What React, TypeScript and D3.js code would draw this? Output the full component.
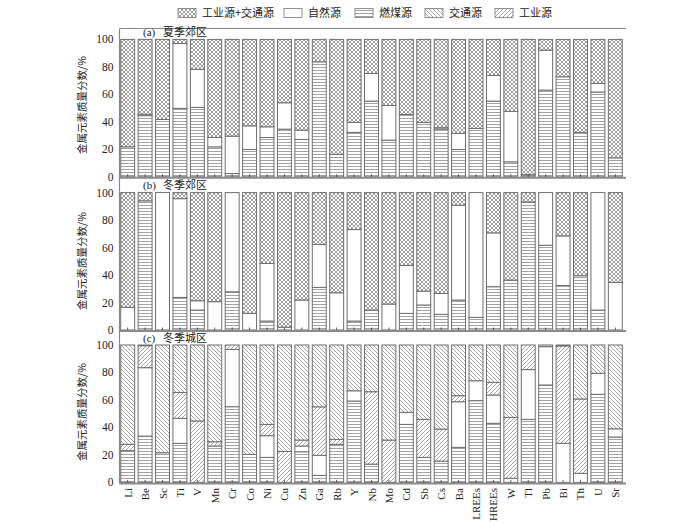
import React from 'react';
import * as d3 from 'd3';

const categories = ['Li','Be','Sc','Ti','V','Mn','Cr','Co','Ni','Cu','Zn','Ga','Rb','Y','Nb','Mo','Cd','Sb','Cs','Ba','LREEs','HREEs','W','Tl','Pb','Bi','Th','U','Sr'];
const yTicks = [0, 20, 40, 60, 80, 100];
const legendNames = ['工业源+交通源', '自然源', '燃煤源', '交通源', '工业源'];
const panelTitles = ['(a)  夏季郊区', '(b)  冬季郊区', '(c)  冬季城区'];
const yTitle = '金属元素质量分数/%';

// (a) 夏季郊区
const coalA = [21.8,44.5,41.7,49.8,50.5,21.8,2.4,19.9,28.6,34.7,27.2,83.7,16.3,32.3,55.1,26.7,45.4,39.6,34.7,19.9,35.2,55.1,10.9,1.5,63.1,72.8,32.3,61.7,13.8];
const naturalA = [0,1,0,47.2,27.7,6.8,27.2,17.2,7.8,19.2,6.8,0,0,7.3,20.1,25.2,0,0,1,11.7,0,18.7,36.7,0,29.1,0,0,6.3,0];
const indTrafficA = [78.2,54.5,58.3,3,21.8,71.4,70.4,62.9,63.6,46.1,66,16.3,83.7,60.4,24.8,48.1,54.6,60.4,64.3,68.4,64.8,26.2,52.4,98.5,7.8,27.2,67.7,32,86.2];

// (b) 冬季郊区
const coalB = [0,94,0,23.7,14.5,0,27.8,0,6.5,0,0,31,0,6.5,14.5,0,12.1,18.2,11.4,21.8,9.2,31.5,36.3,93.2,61.7,32.4,39.5,14.5,0];
const naturalB = [16.5,0,100,71.9,6.8,20.6,72.2,12.1,41.9,2,21.8,31.2,27.1,66.6,0,18.9,34.9,10.1,15.2,69,90.8,39.2,0,0,38.3,36.1,0,85.5,34.6];
const indTrafficB = [83.5,6,0,4.4,78.7,79.4,0,87.9,51.6,98,78.2,37.8,72.9,26.9,85.5,81.1,53,71.7,73.4,9.2,0,29.3,63.7,6.8,0,31.5,60.5,0,65.4];

// (c) 冬季城区
const coalC = [23.1,33.7,21.6,28.4,0,26.5,55.1,20.4,18.2,0,22.3,5.1,27.7,59.2,13.3,0,42.2,18.2,15.5,25.5,59.5,43,0,45.9,70.9,0,0,64.1,33];
const naturalC = [0,49.8,0,18.2,0,0,41.7,0,15.8,0,4.2,14.6,0,7.5,0,0,8.8,0,0,33.2,14.5,20.6,3,36.2,27.9,28.4,6.6,15.3,6];
const industryC = [4.6,16,0,18.9,44.7,3.1,3.2,0,8.2,22.5,4.3,35.3,3.6,0,52.7,30.8,0,27.7,23.3,4.4,0,9.2,44.3,17.9,1.2,70.9,54.1,0,0];
const trafficC = [72.3,0.5,78.4,34.5,55.3,70.4,0,79.6,57.8,77.5,69.2,45,68.7,33.3,34,69.2,49,54.1,61.2,36.9,26,27.2,52.7,0,0,0.7,39.3,20.6,61];

const W = 700, H = 524;
const xLeft = 119.5, xRight = 623.5, axisRight = 626;
const panelBottoms = [176.8, 330, 482.4];
const panelH = 137.4;

type Panel = { keys: string[]; series: Record<string, number[]> };
const panels: Panel[] = [
  { keys: ['coal', 'natural', 'indTraffic'], series: { coal: coalA, natural: naturalA, indTraffic: indTrafficA } },
  { keys: ['coal', 'natural', 'indTraffic'], series: { coal: coalB, natural: naturalB, indTraffic: indTrafficB } },
  { keys: ['coal', 'natural', 'industry', 'traffic'], series: { coal: coalC, natural: naturalC, industry: industryC, traffic: trafficC } },
];

const fillFor: Record<string, string> = {
  indTraffic: 'url(#p-cross)',
  natural: '#ffffff',
  coal: 'url(#p-horiz)',
  traffic: 'url(#p-back)',
  industry: 'url(#p-fwd)',
};
const legendKeys = ['indTraffic', 'natural', 'coal', 'traffic', 'industry'];
const legendX = [178, 284, 355, 425, 495];

const serif = '"Liberation Serif", "Times New Roman", serif';
const cjk = '"Noto Sans CJK SC", sans-serif';

export default function App() {
  const x = d3.scaleBand<string>().domain(categories).range([xLeft, xRight]).paddingInner(0.2).paddingOuter(0.07);
  const bw = x.bandwidth();

  return (
    <svg width={W} height={H} style={{ position: 'absolute', left: 0, top: 0, background: '#fff' }}>
      <defs>
        <pattern id="p-cross" patternUnits="userSpaceOnUse" width="4" height="4">
          <rect width="4" height="4" fill="#fff" />
          <path d="M0,0L4,4M4,0L0,4" stroke="#777" strokeWidth="0.7" />
        </pattern>
        <pattern id="p-horiz" patternUnits="userSpaceOnUse" width="4" height="3">
          <rect width="4" height="3" fill="#fff" />
          <path d="M0,1.5L4,1.5" stroke="#8a8a8a" strokeWidth="0.8" />
        </pattern>
        <pattern id="p-back" patternUnits="userSpaceOnUse" width="4" height="4">
          <rect width="4" height="4" fill="#fff" />
          <path d="M0,0L4,4M-1,3L1,5M3,-1L5,1" stroke="#808080" strokeWidth="0.7" />
        </pattern>
        <pattern id="p-fwd" patternUnits="userSpaceOnUse" width="4" height="4">
          <rect width="4" height="4" fill="#fff" />
          <path d="M0,4L4,0M-1,1L1,-1M3,5L5,3" stroke="#808080" strokeWidth="0.7" />
        </pattern>
      </defs>

      {/* legend */}
      {legendKeys.map((k, i) => (
        <g key={k}>
          <rect x={legendX[i]} y={8.5} width={18} height={9} fill={fillFor[k]} stroke="#777" strokeWidth={0.8} />
          <text x={legendX[i] + 24} y={17} fontFamily={cjk} fontSize={11} fill="#222">{legendNames[i]}</text>
        </g>
      ))}

      {/* top frame line */}
      <line x1={xLeft} x2={axisRight} y1={28.5} y2={28.5} stroke="#888" strokeWidth={1} />
      {/* left axis */}
      <line x1={xLeft} x2={xLeft} y1={28.5} y2={panelBottoms[2] + 1} stroke="#888" strokeWidth={1.2} />

      {panels.map((p, pi) => {
        const bottom = panelBottoms[pi];
        const y = d3.scaleLinear().domain([0, 100]).range([bottom, bottom - panelH]);
        const rows = categories.map((c, i) => {
          const r: any = { cat: c };
          p.keys.forEach(k => { r[k] = p.series[k][i]; });
          return r;
        });
        const stacked = d3.stack<any>().keys(p.keys)(rows);
        const yMid = pi === 0 ? 105 : pi === 1 ? 261 : 412;
        return (
          <g key={pi}>
            {stacked.map(layer => (
              <g key={layer.key}>
                {layer.map((d, i) => {
                  const h = y(d[0]) - y(d[1]);
                  if (h <= 0.01) return null;
                  return (
                    <rect key={i} x={x(categories[i])} y={y(d[1])} width={bw} height={h}
                      fill={fillFor[layer.key]} stroke="#6f6f6f" strokeWidth={1} />
                  );
                })}
              </g>
            ))}
            {/* bottom axis */}
            <line x1={xLeft} x2={axisRight} y1={bottom + 1} y2={bottom + 1} stroke="#8a8a8a" strokeWidth={2} />
            {categories.map(c => (
              <line key={c} x1={(x(c) as number) + bw / 2} x2={(x(c) as number) + bw / 2} y1={bottom} y2={bottom - 2.5} stroke="#333" strokeWidth={0.8} />
            ))}
            {yTicks.map(t => (
              <text key={t} x={113.5} y={y(t) + 4} textAnchor="end" fontFamily={serif} fontSize={11.5} fill="#222">{t}</text>
            ))}
            <text x={143} y={y(100) - 3.5} fontFamily={serif} fontSize={11} fill="#222" xmlSpace="preserve">
              <tspan>{panelTitles[pi].split('  ')[0]}</tspan>
              <tspan x={163} fontFamily={cjk}>{panelTitles[pi].split('  ')[1]}</tspan>
            </text>
            <text transform={`translate(86,${yMid}) rotate(-90)`} textAnchor="middle" fontFamily={cjk} fontSize={10.5} fill="#222">{yTitle}</text>
          </g>
        );
      })}

      {/* x labels */}
      {categories.map(c => (
        <text key={c} transform={`translate(${(x(c) as number) + bw / 2 + 4},488) rotate(-90)`} textAnchor="end"
          fontFamily={serif} fontSize={11} fill="#222">{c}</text>
      ))}
    </svg>
  );
}
